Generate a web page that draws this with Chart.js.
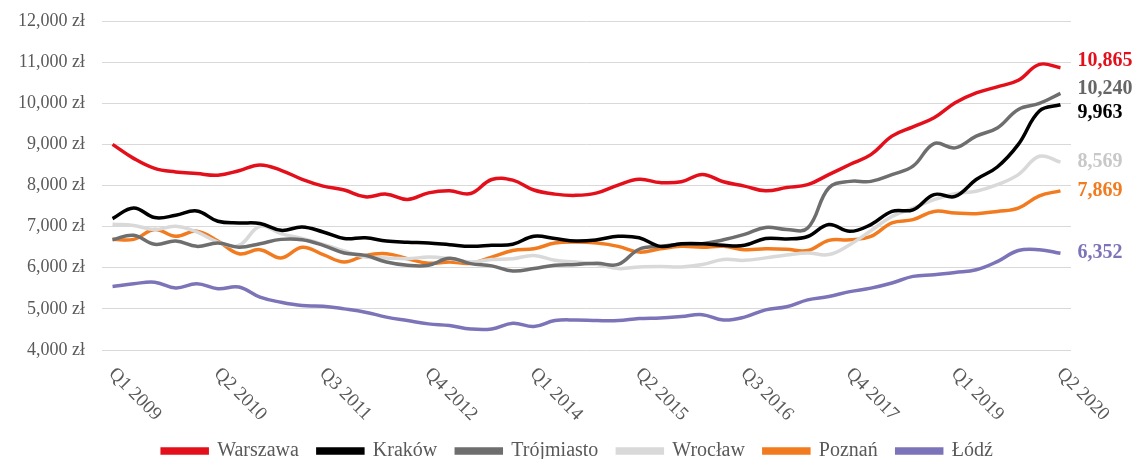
<!DOCTYPE html>
<html>
<head>
<meta charset="utf-8">
<script src="https://cdn.jsdelivr.net/npm/chart.js@4.4.1/dist/chart.umd.min.js"></script>
<style>
  html, body { margin: 0; padding: 0; background: #fff; }
  #wrap { width: 1135px; height: 459px; }
</style>
</head>
<body>
<div id="wrap"><canvas id="c" width="1135" height="459"></canvas></div>
<script>
const quarters = [
  'Q1 2009','Q2 2009','Q3 2009','Q4 2009','Q1 2010','Q2 2010','Q3 2010','Q4 2010',
  'Q1 2011','Q2 2011','Q3 2011','Q4 2011','Q1 2012','Q2 2012','Q3 2012','Q4 2012',
  'Q1 2013','Q2 2013','Q3 2013','Q4 2013','Q1 2014','Q2 2014','Q3 2014','Q4 2014',
  'Q1 2015','Q2 2015','Q3 2015','Q4 2015','Q1 2016','Q2 2016','Q3 2016','Q4 2016',
  'Q1 2017','Q2 2017','Q3 2017','Q4 2017','Q1 2018','Q2 2018','Q3 2018','Q4 2018',
  'Q1 2019','Q2 2019','Q3 2019','Q4 2019','Q1 2020','Q2 2020'
];
const shownTicks = ['Q1 2009','Q2 2010','Q3 2011','Q4 2012','Q1 2014','Q2 2015','Q3 2016','Q4 2017','Q1 2019','Q2 2020'];

const warszawa = [9000,8660,8415,8330,8290,8250,8360,8500,8370,8150,7985,7890,7725,7790,7660,7820,7870,
  7805,8145,8130,7890,7790,7760,7820,8010,8150,8070,8090,8270,8090,7985,7870,
  7950,8020,8265,8510,8750,9200,9425,9645,10010,10250,10400,10560,10945,10865];
const krakow = [7195,7455,7220,7275,7380,7130,7090,7075,6910,6990,6870,6710,6730,6650,6620,6600,6560,
  6520,6545,6570,6765,6710,6650,6680,6765,6730,6520,6585,6585,6545,6545,6710,
  6700,6760,7050,6885,7050,7370,7410,7780,7735,8145,8450,9000,9810,9963];
const trojmiasto = [6680,6790,6570,6650,6520,6600,6500,6585,6690,6680,6545,6360,6300,6140,6060,6060,6230,
  6100,6045,5920,5980,6060,6080,6110,6080,6450,6520,6570,6585,6680,6810,6980,
  6930,6965,7940,8100,8100,8265,8470,9020,8915,9200,9400,9850,9995,10240];
const wroclaw = [7060,7030,6930,7010,6870,6625,6545,7010,6830,6710,6570,6410,6260,6240,6220,6260,6220,
  6140,6200,6220,6300,6180,6140,6080,5980,6020,6030,6020,6080,6200,6180,6240,
  6310,6360,6320,6560,6900,7250,7450,7655,7800,7860,8020,8265,8710,8569];
const poznan = [6690,6690,6930,6765,6890,6650,6340,6440,6240,6500,6320,6140,6300,6340,6220,6110,6140,
  6110,6260,6420,6460,6600,6625,6600,6520,6380,6460,6520,6500,6520,6440,6460,
  6450,6420,6665,6680,6760,7090,7170,7370,7330,7315,7370,7450,7750,7869];
const lodz = [5545,5610,5650,5510,5610,5490,5530,5285,5160,5080,5065,5000,4920,4800,4715,4635,4595,
  4510,4510,4650,4570,4715,4730,4715,4715,4765,4780,4815,4860,4730,4800,4975,
  5050,5220,5300,5420,5505,5630,5790,5830,5885,5950,6150,6420,6440,6352];

const cityNames = ['Warszawa','Kraków','Trójmiasto','Wrocław','Poznań','Łódź'];
const cityData = [warszawa, krakow, trojmiasto, wroclaw, poznan, lodz];
const lineColors = ['#e3101c','#000000','#6e6e6e','#d9d9d9','#f27b1f','#7c74b8'];
const endColors = ['#e3101c','#000000','#666666','#c8c8c8','#f27b1f','#7c74b8'];
// nudge of end labels so they do not overlap
const endNudge = [-7, 8, -5, 0, 0, 0];

const serif = '"Liberation Serif", "Times New Roman", serif';

const extraText = {
  id: 'extraText',
  afterLayout(chart) {
    // legend sits a bit right of centre in the original
    chart.legend.left += 36;
    chart.legend.right += 36;
  },
  afterDraw(chart) {
    const ctx = chart.ctx;
    const xs = chart.scales.x, ys = chart.scales.y;
    ctx.save();
    ctx.font = '19px ' + serif;
    ctx.fillStyle = '#595959';
    ctx.textAlign = 'left';
    ctx.textBaseline = 'middle';
    shownTicks.forEach(t => {
      const x = xs.getPixelForValue(quarters.indexOf(t));
      ctx.save();
      ctx.translate(x - 1, ys.bottom + 21);
      ctx.rotate(Math.PI / 4);
      ctx.fillText(t, 0, 0);
      ctx.restore();
    });
    ctx.font = 'bold 20px ' + serif;
    const last = quarters.length - 1;
    cityData.forEach((d, k) => {
      const v = d[last];
      ctx.fillStyle = endColors[k];
      ctx.fillText(v.toLocaleString('en-US'), xs.getPixelForValue(last) + 17, ys.getPixelForValue(v) + endNudge[k]);
    });
    ctx.restore();
  }
};

new Chart(document.getElementById('c'), {
  type: 'line',
  data: {
    labels: quarters,
    datasets: cityNames.map((n, k) => ({
      label: n,
      data: cityData[k],
      borderColor: lineColors[k],
      backgroundColor: lineColors[k],
      borderWidth: 3.5,
      pointRadius: 0,
      tension: 0.4,
      fill: false
    }))
  },
  options: {
    responsive: false,
    animation: false,
    layout: { padding: { left: 12, right: 64, top: 21, bottom: -12 } },
    plugins: {
      legend: {
        position: 'bottom',
        labels: {
          boxWidth: 45,
          boxHeight: 4,
          padding: 19,
          color: '#595959',
          font: { family: serif, size: 20 }
        }
      },
      tooltip: { enabled: false }
    },
    scales: {
      x: {
        offset: true,
        grid: { display: false, drawTicks: false },
        border: { display: false },
        ticks: { display: false },
        afterFit(scale) { scale.height = 72; }
      },
      y: {
        min: 4000,
        max: 12000,
        grid: { color: '#d9d9d9', lineWidth: 1, drawTicks: false },
        border: { display: false },
        ticks: {
          stepSize: 1000,
          padding: 17,
          color: '#595959',
          font: { family: serif, size: 18 },
          callback: v => v.toLocaleString('en-US') + ' zł'
        },
        afterFit(scale) {
          scale.width = 90;
          scale.paddingTop = 0;
          scale.paddingBottom = 0;
        }
      }
    }
  },
  plugins: [extraText]
});
</script>
</body>
</html>
